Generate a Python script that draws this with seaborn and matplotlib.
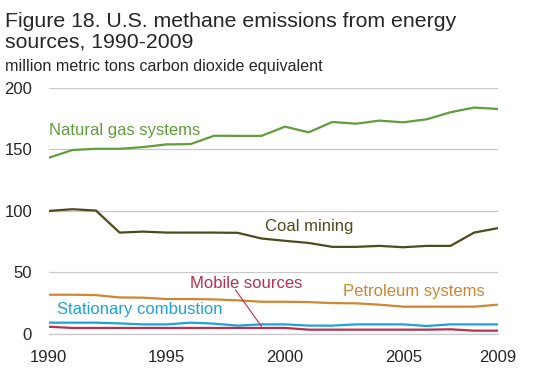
import numpy as np
import pandas as pd
import matplotlib
matplotlib.use("Agg")
import matplotlib.pyplot as plt
import seaborn as sns

years = list(range(1990, 2010))
natural_gas = [143.2, 149.5, 150.5, 150.5, 151.9, 154.1, 154.3, 161.1, 161.0, 161.0,
               168.5, 163.9, 172.3, 170.9, 173.4, 172.0, 174.5, 180.2, 184.0, 182.9]
coal_mining = [100.0, 101.4, 100.3, 82.4, 83.2, 82.4, 82.4, 82.4, 82.2, 77.6,
               75.7, 74.0, 70.8, 70.8, 71.6, 70.5, 71.6, 71.6, 82.4, 86.0]
petroleum = [31.9, 31.9, 31.6, 29.7, 29.5, 28.4, 28.4, 28.1, 27.3, 26.2,
             26.2, 25.9, 25.1, 24.9, 23.8, 22.2, 22.2, 22.2, 22.2, 23.8]
stationary = [9.2, 9.2, 9.2, 8.6, 7.8, 7.8, 9.2, 8.4, 6.8, 7.8,
              7.8, 6.8, 6.8, 7.8, 7.8, 7.8, 6.5, 7.8, 7.8, 7.8]
mobile = [5.9, 4.9, 4.9, 4.9, 4.9, 4.9, 4.9, 4.9, 4.9, 4.9,
          4.9, 3.5, 3.5, 3.5, 3.5, 3.5, 3.5, 3.8, 2.7, 2.7]

series_names = ["Natural gas systems", "Coal mining", "Petroleum systems",
                "Stationary combustion", "Mobile sources"]
colors = ["#5f9e3a", "#4f4a1c", "#cf8630", "#1ca2dc", "#b8304b"]
y_ticks = [0, 50, 100, 150, 200]
x_ticks = [1990, 1995, 2000, 2005, 2009]

df = pd.DataFrame({"year": years, "Natural gas systems": natural_gas,
                   "Coal mining": coal_mining, "Petroleum systems": petroleum,
                   "Stationary combustion": stationary, "Mobile sources": mobile})
long = df.melt(id_vars="year", var_name="series", value_name="value")

sns.set_style("white")
plt.rcParams['font.family'] = ['Liberation Sans', 'DejaVu Sans']

fig = plt.figure(figsize=(5.5, 3.74), dpi=100)
ax = fig.add_axes([0.0885, 0.107, 0.8165, 0.658])

sns.lineplot(data=long, x="year", y="value", hue="series", hue_order=series_names,
             palette=colors, linewidth=1.6, legend=False, ax=ax)

ax.set_xlim(1990, 2009)
ax.set_ylim(0, 200)
ax.set_yticks(y_ticks)
ax.set_yticklabels([str(v) for v in y_ticks], fontsize=12)
ax.set_xticks(years, minor=False)
ax.set_xticklabels([str(y) if y in x_ticks else "" for y in years], fontsize=12)
ax.yaxis.grid(True, color="#c8c8c8", linewidth=0.9)
ax.set_axisbelow(True)
for s in ["left", "right", "top"]:
    ax.spines[s].set_visible(False)
ax.spines["bottom"].set_color("#c8c8c8")
ax.spines["bottom"].set_linewidth(0.9)
ax.tick_params(axis="x", direction="out", length=6, width=0.8, color="#d0d0d0", pad=5.5)
ax.tick_params(axis="y", length=0, pad=12)
ax.set_xlabel("")
ax.set_ylabel("")

fs = 12
ax.text(1990.0, 165.2, "Natural gas systems", color=colors[0], fontsize=fs, va="center", ha="left")
ax.text(1999.15, 87.0, "Coal mining", color=colors[1], fontsize=fs, va="center", ha="left")
ax.text(2002.45, 34.3, "Petroleum systems", color=colors[2], fontsize=fs, va="center", ha="left")
ax.text(1990.36, 20.3, "Stationary combustion", color=colors[3], fontsize=fs, va="center", ha="left")
ax.text(1995.98, 41.4, "Mobile sources", color=colors[4], fontsize=fs, va="center", ha="left")
ax.plot([1997.9, 1999.0], [35.9, 6.2], color=colors[4], linewidth=0.8)

fig.text(0.009, 1 - 27 / 374, "Figure 18. U.S. methane emissions from energy",
         fontsize=15.3, ha="left", va="baseline")
fig.text(0.009, 1 - 48 / 374, "sources, 1990-2009",
         fontsize=15.3, ha="left", va="baseline")
fig.text(0.009, 1 - 70.5 / 374, "million metric tons carbon dioxide equivalent", fontsize=11.6,
         ha="left", va="baseline")

fig.savefig("out.png", dpi=100)
